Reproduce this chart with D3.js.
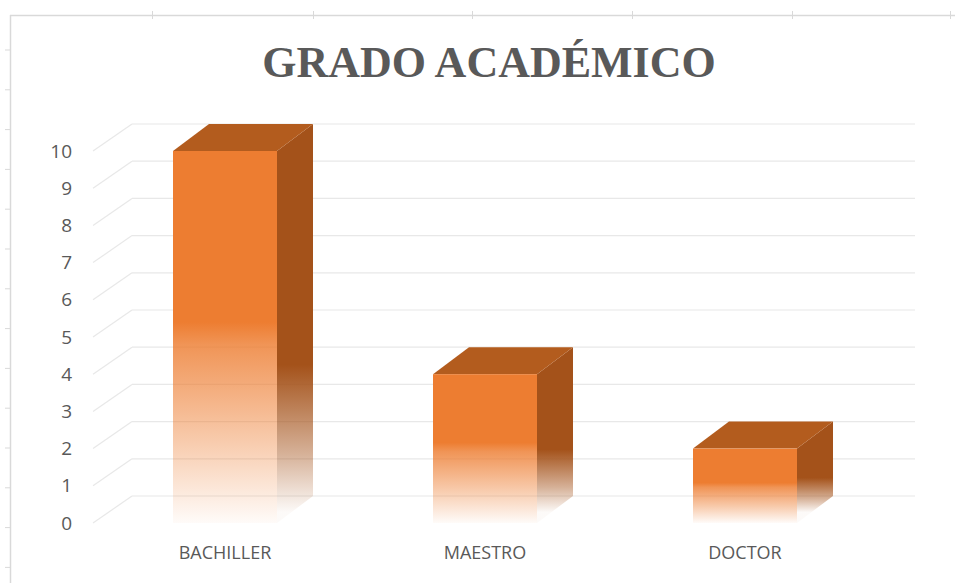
<!DOCTYPE html>
<html>
<head>
<meta charset="utf-8">
<script src="https://cdn.jsdelivr.net/npm/d3@7"></script>
<style>
  html, body { margin: 0; padding: 0; background: #ffffff; }
  svg { display: block; }
</style>
</head>
<body>
<svg id="chart" width="955" height="583"></svg>
<script>
// ---- data ----
const title = "GRADO ACADÉMICO";
const categories = ["BACHILLER", "MAESTRO", "DOCTOR"];
const values = [10, 4, 2];
const yTicks = [0, 1, 2, 3, 4, 5, 6, 7, 8, 9, 10];

// ---- layout ----
const W = 955, H = 583;
const svg = d3.select("#chart");
const frontLeft = 93, frontRight = 876;
const yBottom = 523, yTop = 151;
const wallDX = 39, wallDY = -27;   // depth of the walls
const barDX = 36, barDY = -27;     // depth of the bars

const x = d3.scaleBand().domain(categories).range([frontLeft + 2, frontRight - 1])
  .paddingInner(0.6).paddingOuter(0.3);
const y = d3.scaleLinear().domain([0, 10]).range([yBottom, yTop]);

// ---- decorative sheet frame ----
const frame = svg.append("g").attr("stroke", "#d9d9d9").attr("fill", "none");
frame.append("line").attr("x1", 10).attr("x2", W).attr("y1", 15.5).attr("y2", 15.5).attr("stroke-width", 1.5);
frame.append("line").attr("x1", 10.5).attr("x2", 10.5).attr("y1", 15).attr("y2", H).attr("stroke-width", 1.5);
[152, 313, 472, 632, 792, 950].forEach(px => {
  frame.append("line").attr("x1", px + 0.5).attr("x2", px + 0.5).attr("y1", 11).attr("y2", 19);
});
d3.range(50, H, 39.8).forEach(py => {
  frame.append("line").attr("x1", 5).attr("x2", 11).attr("y1", py).attr("y2", py);
});

// ---- gradients (per bar, in user space) ----
const defs = svg.append("defs");
function grad(id, color, yStart, yEnd, stops) {
  const g = defs.append("linearGradient").attr("id", id)
    .attr("gradientUnits", "userSpaceOnUse")
    .attr("x1", 0).attr("y1", yStart).attr("x2", 0).attr("y2", yEnd);
  stops.forEach(s => g.append("stop").attr("offset", s[0]).attr("stop-color", color).attr("stop-opacity", s[1]));
}
const frontStops = [["0%", 1], ["46%", 1], ["52%", 0.82], ["78%", 0.4], ["100%", 0.03]];
const sideStops = [["0%", 1], ["62%", 1], ["85%", 0.45], ["100%", 0.03]];
categories.forEach((c, i) => {
  grad("gFront" + i, "#ED7D31", y(values[i]), y(0), frontStops);
  grad("gSide" + i, "#A4521A", y(values[i]) + barDY, y(0) + barDY * 0.4, sideStops);
});

// ---- gridlines ----
const grid = svg.append("g").attr("stroke", "#e8e8e8").attr("stroke-width", 1.2).attr("fill", "none");
grid.selectAll("line.back").data(yTicks).join("line").attr("class", "back")
  .attr("x1", frontLeft + wallDX).attr("x2", frontRight + wallDX)
  .attr("y1", d => y(d) + wallDY).attr("y2", d => y(d) + wallDY);
grid.selectAll("line.side").data(yTicks).join("line").attr("class", "side")
  .attr("x1", frontLeft).attr("x2", frontLeft + wallDX)
  .attr("y1", d => y(d)).attr("y2", d => y(d) + wallDY);

// ---- y axis (labels only) ----
const yAxis = svg.append("g").attr("transform", `translate(${frontLeft},0)`)
  .call(d3.axisLeft(y).tickValues(yTicks).tickFormat(d3.format("d")).tickSize(0).tickPadding(21));
yAxis.select(".domain").remove();
yAxis.selectAll("text").attr("fill", "#595959").attr("font-family", "'Open Sans', sans-serif")
  .attr("font-size", 19);

// ---- bars ----
const bars = svg.append("g").selectAll("g.bar").data(categories.map((c, i) => ({ c, v: values[i], i })))
  .join("g").attr("class", "bar");

// side face
bars.append("path").attr("fill", d => `url(#gSide${d.i})`)
  .attr("d", d => {
    const x1 = x(d.c) + x.bandwidth(), yt = y(d.v), yb = y(0);
    return `M${x1},${yt} L${x1 + barDX},${yt + barDY} L${x1 + barDX},${yb + barDY} L${x1},${yb} Z`;
  });
// top face
bars.append("path").attr("fill", "#B35C1E")
  .attr("d", d => {
    const x0 = x(d.c), x1 = x0 + x.bandwidth(), yt = y(d.v);
    return `M${x0},${yt} L${x0 + barDX},${yt + barDY} L${x1 + barDX},${yt + barDY} L${x1},${yt} Z`;
  });
// front face
bars.append("rect").attr("fill", d => `url(#gFront${d.i})`)
  .attr("x", d => x(d.c)).attr("y", d => y(d.v))
  .attr("width", x.bandwidth()).attr("height", d => y(0) - y(d.v));

// ---- x axis labels ----
const xAxis = svg.append("g").attr("transform", `translate(0,${yBottom + 20})`)
  .call(d3.axisBottom(x).tickSize(0).tickPadding(0));
xAxis.select(".domain").remove();
xAxis.selectAll("text").attr("fill", "#595959").attr("font-family", "'Open Sans', sans-serif")
  .attr("font-size", 18).attr("dy", "0.9em");

// ---- title ----
svg.append("text").attr("x", 489).attr("y", 77).attr("text-anchor", "middle")
  .attr("font-family", "'Liberation Serif', 'Times New Roman', serif").attr("font-weight", "bold")
  .attr("font-size", 44).attr("fill", "#595959").text(title);
</script>
</body>
</html>
